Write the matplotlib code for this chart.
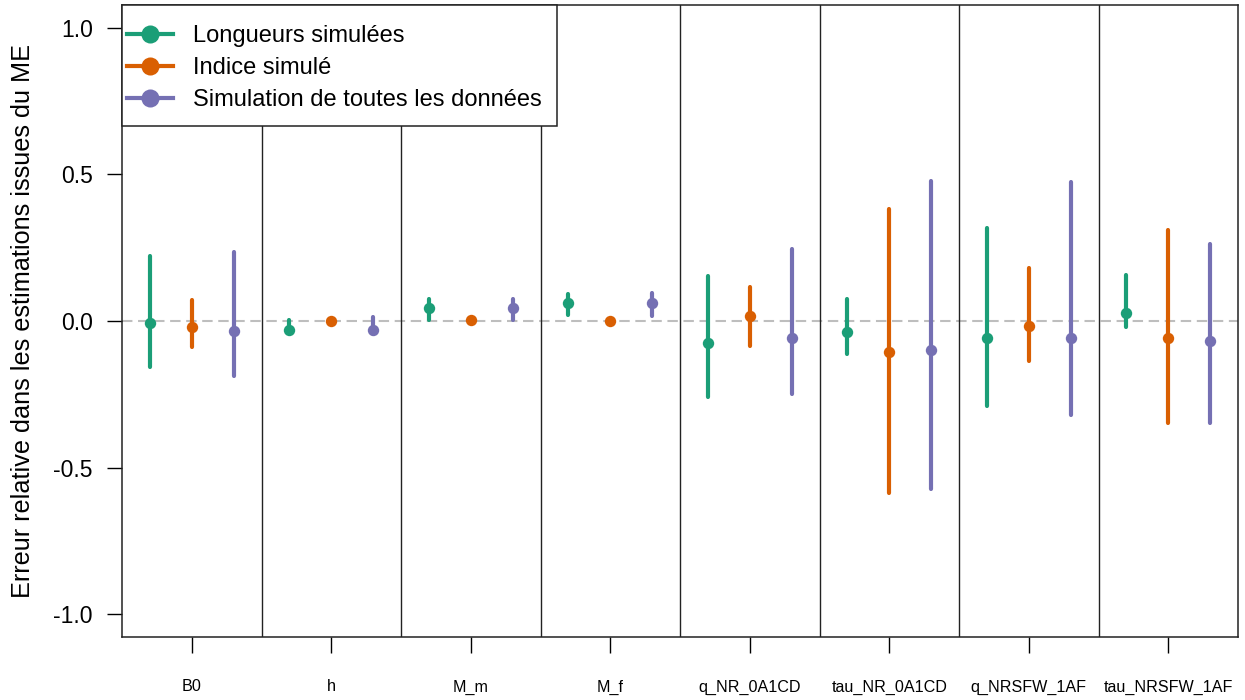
import matplotlib
matplotlib.use("Agg")
import matplotlib.pyplot as plt
from matplotlib.lines import Line2D
from matplotlib.patches import Rectangle

plt.rcParams['font.family'] = ['Liberation Sans', 'DejaVu Sans']

categories = ["B0", "h", "M_m", "M_f", "q_NR_0A1CD", "tau_NR_0A1CD", "q_NRSFW_1AF", "tau_NRSFW_1AF"]
series_names = ["Longueurs simulées", "Indice simulé", "Simulation de toutes les données"]
colors = ["#1B9E77", "#D95F02", "#7570B3"]

long_mid = [-0.007, -0.031, 0.043, 0.060, -0.074, -0.038, -0.059, 0.026]
long_lo = [-0.158, -0.038, 0.005, 0.019, -0.258, -0.111, -0.290, -0.021]
long_hi = [0.222, 0.004, 0.074, 0.093, 0.154, 0.074, 0.318, 0.158]

ind_mid = [-0.022, 0.000, 0.002, 0.000, 0.017, -0.105, -0.018, -0.059]
ind_lo = [-0.087, 0.000, 0.002, 0.000, -0.086, -0.586, -0.137, -0.349]
ind_hi = [0.072, 0.000, 0.002, 0.000, 0.116, 0.381, 0.180, 0.312]

all_mid = [-0.033, -0.032, 0.045, 0.060, -0.059, -0.098, -0.059, -0.068]
all_lo = [-0.186, -0.046, 0.005, 0.017, -0.249, -0.574, -0.321, -0.349]
all_hi = [0.235, 0.012, 0.075, 0.094, 0.247, 0.477, 0.474, 0.262]

yticks = [-1.0, -0.5, 0.0, 0.5, 1.0]
ytick_labels = ["-1.0", "-0.5", "0.0", "0.5", "1.0"]

mids = [long_mid, ind_mid, all_mid]
los = [long_lo, ind_lo, all_lo]
his = [long_hi, ind_hi, all_hi]
offsets = [-0.3, 0.0, 0.3]

fig = plt.figure(figsize=(12.45, 7.0), dpi=100)
ax = fig.add_axes([122/1245, 1-637/700, (1238-122)/1245, (637-5)/700])

ax.axhline(0, color="#BEBEBE", lw=1.5, ls=(0, (5, 2.7)), zorder=1)
for k in range(1, len(categories)):
    ax.axvline(k + 0.5, color="#222222", lw=1.0, zorder=1)

for s in range(3):
    xs = [i + 1 + offsets[s] for i in range(len(categories))]
    for i, x in enumerate(xs):
        ax.plot([x, x], [los[s][i], his[s][i]], color=colors[s], lw=3.0,
                solid_capstyle="round", zorder=3)
    ax.plot(xs, mids[s], "o", color=colors[s], ms=8.2, mec="none", zorder=4)

ax.set_xlim(0.5, len(categories) + 0.5)
ax.set_ylim(-1.078, 1.078)
ax.set_xticks(range(1, len(categories) + 1))
ax.set_xticklabels(categories, fontsize=11.6)
ax.set_yticks(yticks)
ax.set_yticklabels(ytick_labels, fontsize=16.5)
ax.tick_params(axis="x", length=11.5, width=1.0, pad=19)
ax.tick_params(axis="y", length=10.5, width=1.0, pad=10.5)
for sp in ax.spines.values():
    sp.set_linewidth(1.1)
    sp.set_color("#222222")
ax.set_ylabel("Erreur relative dans les estimations issues du ME", fontsize=18.2, labelpad=13)

# legend box (white, framed) covering the separator lines
frame = Rectangle((0, 1 - 121/632), 435/1116, 121/632, transform=ax.transAxes,
                  facecolor="white", edgecolor="#222222", lw=1.1, zorder=9, clip_on=False)
ax.add_patch(frame)
handles = [Line2D([0], [0], color=c, lw=3.0, marker="o", ms=13, mec="none") for c in colors]
leg = ax.legend(handles, series_names, loc="upper left", fontsize=17, frameon=False,
                bbox_to_anchor=(5/1116, 1 - 20/632), borderaxespad=0, borderpad=0,
                handlelength=1.95, handletextpad=0.85, labelspacing=0.42)
leg.set_zorder(10)

fig.savefig("out.png", dpi=100)
